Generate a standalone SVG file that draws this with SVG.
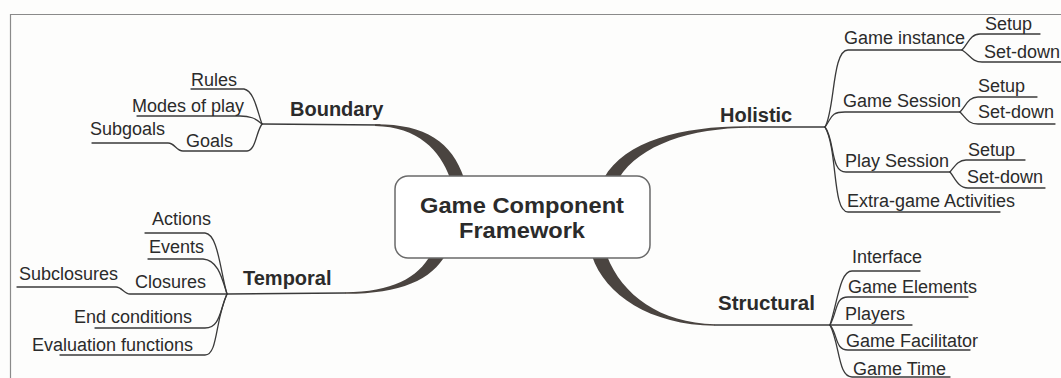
<svg xmlns="http://www.w3.org/2000/svg" width="1061" height="378" viewBox="0 0 1061 378">
<style>
text{font-family:"Liberation Sans",Arial,sans-serif;fill:#2b2b2b}
.leaf{font-size:18px}
.branch{font-size:20px;font-weight:bold}
.center{font-size:21.5px;font-weight:bold}
.ln{fill:none;stroke:#3a3a3a;stroke-width:1.3;stroke-linecap:round}
.thick{fill:#4a4440;stroke:none}
.frame{fill:none;stroke:#8a8a8a;stroke-width:1.2}
</style>
<rect x="0" y="0" width="1061" height="378" fill="#fdfdfc"/>
<path class="frame" d="M10 14.5 L1061 14.5 M10.5 14 L10.5 378"/>
<g id="connectors">
<path class="ln" d="M262 124 L380 125"/>
<path class="thick" d="M375 124.3 C425 124 452 142 464 178 L450 178 C440 150 418 127 375 126 Z"/>
<path class="ln" d="M825 127 L750 127"/>
<path class="thick" d="M750 126.2 C685 125.5 625 140 604 178 L619 178 C640 145 690 128 750 127.8 Z"/>
<path class="ln" d="M227 294 L345 293"/>
<path class="thick" d="M345 293.8 C400 294 432 280 446 254 L431 254 C418 278 392 292 345 292.2 Z"/>
<path class="ln" d="M830 325 L715 325"/>
<path class="thick" d="M592 256 C605 295 650 325 715 325.8 L715 324.2 C660 323 622 295 607 256 Z"/>
<path class="ln" d="M262 124 C257 110 254 91 244 89 L191 89"/>
<path class="ln" d="M262 124 C255 118 250 116 240 116 L137 116"/>
<path class="ln" d="M262 124 C256 132 256 150 247 151 L183 151 C176 151 175 143 168 143 L92 143"/>
<path class="ln" d="M227 294 C220 270 218 234 205 233 L145 233"/>
<path class="ln" d="M227 294 C222 278 218 260 203 259 L148 259"/>
<path class="ln" d="M227 294 L130 294 C124 294 122 287 116 287 L17 287"/>
<path class="ln" d="M227 294 C220 310 220 328 205 328 L95 328"/>
<path class="ln" d="M227 294 C215 320 218 355 205 355 L60 355"/>
<path class="ln" d="M825 127 C835 110 832 50 848 50 L962 50"/>
<path class="ln" d="M962 50 C968 44 970 34 980 34 L1040 34"/>
<path class="ln" d="M962 50 C970 55 972 62 982 62 L1061 62"/>
<path class="ln" d="M825 127 C832 118 830 112 845 112 L960 112"/>
<path class="ln" d="M960 112 C966 106 968 97 978 97 L1037 97"/>
<path class="ln" d="M960 112 C966 118 968 124 978 124 L1055 124"/>
<path class="ln" d="M825 127 C835 140 830 172 846 172 L950 172"/>
<path class="ln" d="M950 172 C955 166 958 160 966 160 L1025 160"/>
<path class="ln" d="M950 172 C955 178 958 188 968 188 L1045 188"/>
<path class="ln" d="M825 127 C838 150 832 212 848 212 L1000 212"/>
<path class="ln" d="M830 325 C838 300 840 271 852 271 L920 271"/>
<path class="ln" d="M830 325 C838 310 835 297 848 297 L968 297"/>
<path class="ln" d="M830 325 L912 325"/>
<path class="ln" d="M830 325 C838 335 835 350 848 350 L970 350"/>
<path class="ln" d="M830 325 C840 345 838 377 852 377 L950 377"/>
</g>
<g id="center">
<rect x="395" y="176" width="255" height="82" rx="13" fill="#ffffff" stroke="#6a6a6a" stroke-width="1.5"/>
<text class="center" x="522" y="213" text-anchor="middle" textLength="204" lengthAdjust="spacingAndGlyphs">Game Component</text>
<text class="center" x="522" y="238" text-anchor="middle" textLength="126" lengthAdjust="spacingAndGlyphs">Framework</text>
</g>
<g id="boundary"><text class="branch" x="290" y="116">Boundary</text></g>
<g id="rules"><text class="leaf" x="191" y="86">Rules</text></g>
<g id="modes-of-play"><text class="leaf" x="132" y="112">Modes of play</text></g>
<g id="subgoals"><text class="leaf" x="90" y="135">Subgoals</text></g>
<g id="goals"><text class="leaf" x="186" y="147">Goals</text></g>
<g id="temporal"><text class="branch" x="243" y="285">Temporal</text></g>
<g id="actions"><text class="leaf" x="152" y="225">Actions</text></g>
<g id="events"><text class="leaf" x="149" y="253">Events</text></g>
<g id="subclosures"><text class="leaf" x="19" y="280">Subclosures</text></g>
<g id="closures"><text class="leaf" x="135" y="288">Closures</text></g>
<g id="end-conditions"><text class="leaf" x="74" y="323">End conditions</text></g>
<g id="evaluation-functions"><text class="leaf" x="32" y="351">Evaluation functions</text></g>
<g id="holistic"><text class="branch" x="720" y="122">Holistic</text></g>
<g id="game-instance"><text class="leaf" x="844" y="44">Game instance</text></g>
<g id="gi-setup"><text class="leaf" x="985" y="30">Setup</text></g>
<g id="gi-setdown"><text class="leaf" x="984" y="58">Set-down</text></g>
<g id="game-session"><text class="leaf" x="843" y="107">Game Session</text></g>
<g id="gs-setup"><text class="leaf" x="978" y="92">Setup</text></g>
<g id="gs-setdown"><text class="leaf" x="978" y="118">Set-down</text></g>
<g id="play-session"><text class="leaf" x="845" y="167">Play Session</text></g>
<g id="ps-setup"><text class="leaf" x="968" y="156">Setup</text></g>
<g id="ps-setdown"><text class="leaf" x="967" y="183">Set-down</text></g>
<g id="extra-game"><text class="leaf" x="847" y="207">Extra-game Activities</text></g>
<g id="structural"><text class="branch" x="718" y="310" style="font-size:20.5px">Structural</text></g>
<g id="interface"><text class="leaf" x="852" y="263">Interface</text></g>
<g id="game-elements"><text class="leaf" x="848" y="293">Game Elements</text></g>
<g id="players"><text class="leaf" x="845" y="320">Players</text></g>
<g id="game-facilitator"><text class="leaf" x="846" y="347">Game Facilitator</text></g>
<g id="game-time"><text class="leaf" x="853" y="375">Game Time</text></g>
</svg>
